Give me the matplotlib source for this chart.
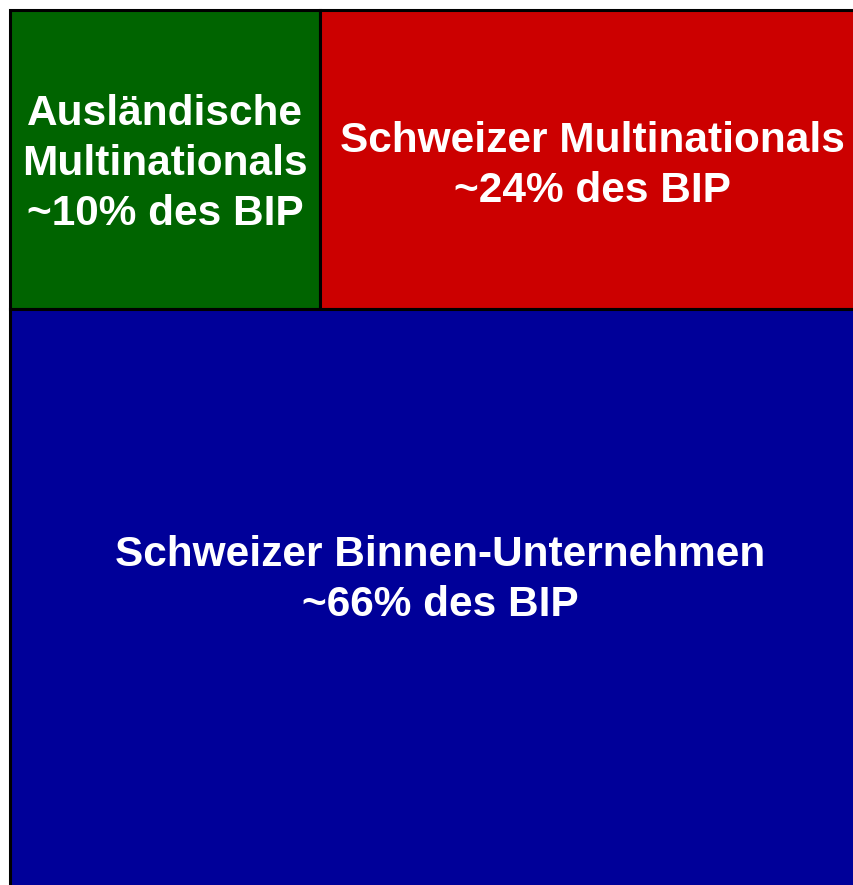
import matplotlib.pyplot as plt
from matplotlib.patches import Rectangle

labels = ["Ausländische\nMultinationals\n~10% des BIP",
          "Schweizer Multinationals\n~24% des BIP",
          "Schweizer Binnen-Unternehmen\n~66% des BIP"]
shares = [10, 24, 66]
colors = ["#006400", "#CC0000", "#000099"]

# full treemap extent (the original picture is cropped on the right/bottom)
W, H = 1053, 880

fig = plt.figure(figsize=(8.54, 8.85), dpi=100)
ax = fig.add_axes([0, 0, 1, 1])

top_h = H * (shares[0] + shares[1]) / 100
w0 = W * shares[0] / (shares[0] + shares[1])
rects = [
    (0, 0, w0, top_h),
    (w0, 0, W - w0, top_h),
    (0, top_h, W, H - top_h),
]

xlim = (-10.5, 843.5)
ylim = (875.5, -9.5)

for (x, y, w, h), c in zip(rects, colors):
    ax.add_patch(Rectangle((x, y), w, h, facecolor=c, edgecolor="black", lw=2.2))

# label positions: centre of the visible part of each box, nudged a bit
text_pos = []
for (x, y, w, h) in rects:
    x1 = min(x + w, xlim[1])
    y1 = min(y + h, ylim[0])
    text_pos.append(((x + x1) / 2, (y + y1) / 2))
text_pos[0] = (text_pos[0][0], text_pos[0][1] + 5)
text_pos[1] = (text_pos[1][0] + 5, text_pos[1][1] + 7)
text_pos[2] = (text_pos[2][0] + 8, text_pos[2][1] - 17)

for (tx, ty), lab in zip(text_pos, labels):
    ax.text(tx, ty, lab, ha="center", va="center", color="white",
            fontsize=30.5, fontweight="bold", family="Liberation Sans",
            linespacing=1.33)

ax.set_xlim(*xlim)
ax.set_ylim(*ylim)
ax.axis("off")

plt.savefig("out.png", dpi=100)
